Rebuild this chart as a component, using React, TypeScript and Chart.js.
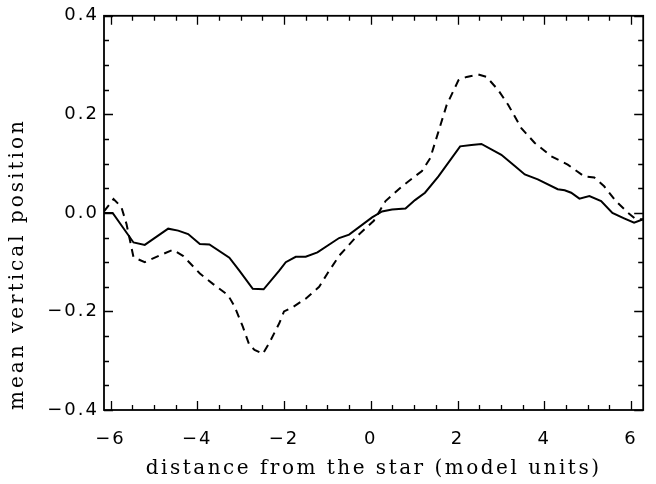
import React, { useEffect, useRef } from "react";
import { Chart, registerables } from "chart.js";

Chart.register(...registerables);

// ---- data ----
const solidX = [-6.15, -5.95, -5.47, -5.21, -4.67, -4.44, -4.21, -3.94, -3.72, -3.26, -3.03, -2.72, -2.47, -2.11, -1.96, -1.73, -1.5, -1.23, -0.73, -0.5, 0.03, 0.26, 0.49, 0.8, 1.02, 1.25, 1.56, 2.06, 2.32, 2.55, 3.01, 3.32, 3.55, 3.85, 4.31, 4.47, 4.62, 4.81, 5.04, 5.31, 5.57, 5.84, 6.07, 6.28];
const solidY = [0.0, 0.0, -0.06, -0.065, -0.032, -0.036, -0.043, -0.063, -0.064, -0.091, -0.117, -0.154, -0.155, -0.117, -0.1, -0.089, -0.089, -0.08, -0.051, -0.044, -0.009, 0.003, 0.007, 0.009, 0.026, 0.041, 0.074, 0.135, 0.138, 0.14, 0.118, 0.095, 0.078, 0.068, 0.048, 0.046, 0.041, 0.029, 0.034, 0.024, 0.0, -0.011, -0.02, -0.013];

const dashedX = [-6.15, -5.93, -5.75, -5.63, -5.47, -5.21, -4.83, -4.56, -4.33, -3.94, -3.64, -3.29, -3.14, -2.95, -2.8, -2.68, -2.49, -2.34, -2.11, -2.0, -1.81, -1.5, -1.19, -1.0, -0.73, -0.35, 0.07, 0.34, 0.72, 1.18, 1.37, 1.56, 1.75, 2.02, 2.21, 2.48, 2.67, 2.94, 3.17, 3.47, 3.78, 4.16, 4.54, 4.92, 5.15, 5.38, 5.65, 5.92, 6.11, 6.28];
const dashedY = [0.003, 0.028, 0.012, -0.023, -0.09, -0.1, -0.085, -0.075, -0.087, -0.123, -0.144, -0.167, -0.19, -0.231, -0.268, -0.278, -0.286, -0.264, -0.224, -0.2, -0.192, -0.174, -0.15, -0.123, -0.087, -0.05, -0.016, 0.024, 0.054, 0.085, 0.111, 0.165, 0.219, 0.269, 0.276, 0.281, 0.276, 0.249, 0.219, 0.172, 0.142, 0.115, 0.098, 0.074, 0.072, 0.054, 0.024, 0.001, -0.013, -0.013];

const xTickValues = [-6, -4, -2, 0, 2, 4, 6];
const yTickValues = [-0.4, -0.2, 0, 0.2, 0.4];
const xMin = -6.15;
const xMax = 6.28;
const yMin = -0.4;
const yMax = 0.4;
const xTitle = "distance from the star (model units)";
const yTitle = "mean vertical position";

const minus = (s: string) => s.replace("-", "\u2212");

const frameTicks = {
  id: "frameTicks",
  afterDatasetsDraw(chart: any) {
    const { ctx, chartArea: a, scales } = chart;
    const xs = scales.x;
    const ys = scales.y;
    ctx.save();
    ctx.strokeStyle = "#000";
    ctx.lineWidth = 1.3;
    ctx.beginPath();
    for (let i = -12; i <= 12; i++) {
      const v = i * 0.5;
      const px = Math.round(xs.getPixelForValue(v)) + 0.5;
      const len = i % 4 === 0 ? 9 : 5;
      ctx.moveTo(px, a.bottom);
      ctx.lineTo(px, a.bottom - len);
      ctx.moveTo(px, a.top);
      ctx.lineTo(px, a.top + len);
    }
    for (let i = -8; i <= 8; i++) {
      const v = i * 0.05;
      const py = Math.round(ys.getPixelForValue(v)) + 0.5;
      const len = i % 4 === 0 ? 9 : 5;
      ctx.moveTo(a.left, py);
      ctx.lineTo(a.left + len, py);
      ctx.moveTo(a.right, py);
      ctx.lineTo(a.right - len, py);
    }
    ctx.stroke();
    ctx.lineWidth = 1.8;
    ctx.strokeRect(a.left, a.top, a.right - a.left, a.bottom - a.top);
    ctx.restore();
  },
};

const spacing = {
  id: "spacing",
  afterUpdate(chart: any) {
    for (const id of ["x", "y"]) {
      const s: any = chart.scales[id];
      if (!s || s.__patched) continue;
      const dl = s.drawLabels.bind(s);
      const dt = s.drawTitle.bind(s);
      const titleSpacing = id === "y" ? "3px" : "2.5px";
      s.drawLabels = (ca: any) => {
        const c: any = chart.ctx;
        c.save();
        c.letterSpacing = "2px";
        dl(ca);
        c.restore();
      };
      s.drawTitle = () => {
        const c: any = chart.ctx;
        c.save();
        c.letterSpacing = titleSpacing;
        dt();
        c.restore();
      };
      s.__patched = true;
    }
  },
};

export default function App() {
  const ref = useRef<HTMLCanvasElement | null>(null);

  useEffect(() => {
    document.body.style.margin = "0";
    if (!ref.current) return;
    const tickFont = { family: "'DejaVu Sans'", size: 18 };
    const titleFont = { family: "'DejaVu Serif'", size: 20 };
    const chart = new Chart(ref.current, {
      type: "line",
      data: {
        datasets: [
          {
            label: "solid",
            data: solidX.map((x, i) => ({ x, y: solidY[i] })),
            borderColor: "#000",
            borderWidth: 2,
            pointRadius: 0,
            tension: 0,
            fill: false,
          },
          {
            label: "dashed",
            data: dashedX.map((x, i) => ({ x, y: dashedY[i] })),
            borderColor: "#000",
            borderWidth: 2,
            borderDash: [8, 6],
            pointRadius: 0,
            tension: 0,
            fill: false,
          },
        ],
      },
      options: {
        animation: false,
        responsive: false,
        maintainAspectRatio: false,
        layout: { padding: { top: 13, right: 10, left: 0, bottom: 0 } },
        plugins: { legend: { display: false }, tooltip: { enabled: false } },
        scales: {
          x: {
            type: "linear",
            min: xMin,
            max: xMax,
            grid: { display: false, drawTicks: false },
            border: { display: false },
            afterBuildTicks: (s: any) => {
              s.ticks = xTickValues.map((value) => ({ value }));
            },
            afterFit: (s: any) => {
              s.height = 74;
            },
            ticks: {
              color: "#000",
              font: tickFont,
              padding: 19,
              maxRotation: 0,
              autoSkip: false,
              callback: (v: any) => minus(String(v)),
            },
            title: {
              display: true,
              text: xTitle,
              color: "#000",
              font: titleFont,
              padding: { top: 0, bottom: 3 },
            },
          },
          y: {
            type: "linear",
            min: yMin,
            max: yMax,
            grid: { display: false, drawTicks: false },
            border: { display: false },
            afterBuildTicks: (s: any) => {
              s.ticks = yTickValues.map((value) => ({ value }));
            },
            afterFit: (s: any) => {
              s.width = 104;
            },
            ticks: {
              color: "#000",
              font: tickFont,
              padding: 5,
              callback: (v: any) => minus(Number(v).toFixed(1)),
            },
            title: {
              display: true,
              text: yTitle,
              color: "#000",
              font: titleFont,
              align: "start",
              padding: { top: 6, bottom: 0 },
            },
          },
        },
      },
      plugins: [frameTicks, spacing],
    } as any);
    return () => chart.destroy();
  }, []);

  return (
    <div style={{ width: 656, height: 484, position: "relative" }}>
      <canvas ref={ref} width={656} height={484} style={{ display: "block", width: 656, height: 484 }} />
    </div>
  );
}
